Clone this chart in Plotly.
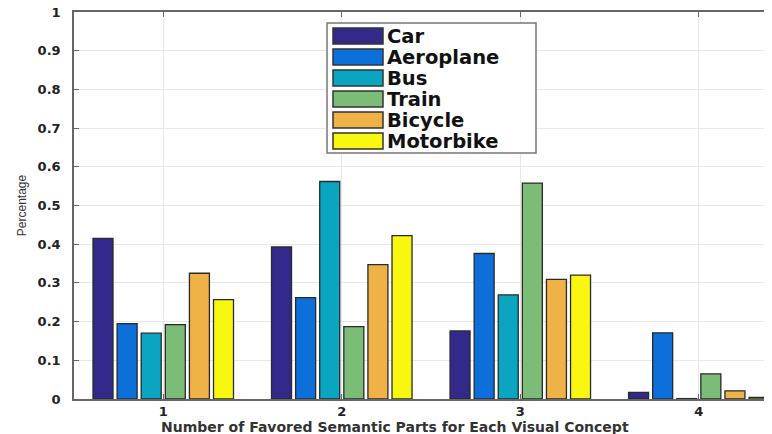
import plotly.graph_objects as go

groups = [1, 2, 3, 4]
series_names = ["Car", "Aeroplane", "Bus", "Train", "Bicycle", "Motorbike"]
car = [0.415, 0.393, 0.176, 0.017]
aeroplane = [0.195, 0.262, 0.376, 0.171]
bus = [0.170, 0.562, 0.269, 0.001]
train = [0.192, 0.187, 0.558, 0.065]
bicycle = [0.325, 0.347, 0.309, 0.021]
motorbike = [0.257, 0.422, 0.320, 0.004]
series_values = [car, aeroplane, bus, train, bicycle, motorbike]
colors = ["#33298a", "#0d6fd9", "#0aa6c1", "#7bbd76", "#efb246", "#f7f70f"]
y_ticks = [0, 0.1, 0.2, 0.3, 0.4, 0.5, 0.6, 0.7, 0.8, 0.9, 1]
y_tick_labels = ["0", "0.1", "0.2", "0.3", "0.4", "0.5", "0.6", "0.7", "0.8", "0.9", "1"]
x_title = "Number of Favored Semantic Parts for Each Visual Concept"

fig = go.Figure()
for name, vals, col in zip(series_names, series_values, colors):
    fig.add_trace(go.Bar(
        x=groups, y=vals, name=name, showlegend=False,
        marker=dict(color=col, line=dict(color="#2a2a2a", width=1.3)),
    ))

# plot area in window pixels (used to place the custom legend)
PLOT_TOP, PLOT_H = 12.0, 387.0
PLOT_LEFT, PLOT_W = 74.0, 698.0

def py(px):
    return (PLOT_TOP + PLOT_H - px) / PLOT_H

def pxx(px):
    return (px - PLOT_LEFT) / PLOT_W

shapes = [dict(type="rect", xref="paper", yref="paper",
               x0=pxx(327), x1=pxx(536), y0=py(153), y1=py(23),
               line=dict(color="#777", width=1.5), fillcolor="white", layer="above")]
annotations = []
for i, (name, col) in enumerate(zip(series_names, colors)):
    cy = 36 + 21 * i
    shapes.append(dict(type="rect", xref="paper", yref="paper",
                       x0=pxx(333), x1=pxx(383), y0=py(cy + 8), y1=py(cy - 8),
                       line=dict(color="#333", width=1.5), fillcolor=col, layer="above"))
    annotations.append(dict(xref="paper", yref="paper", x=pxx(386), y=py(cy + 0.5),
                            xanchor="left", yanchor="middle", text=name, showarrow=False,
                            borderpad=0,
                            font=dict(family="DejaVu Sans", size=19.5, color="#111", weight="bold")))

annotations.append(dict(xref="paper", yref="paper", x=pxx(395), y=py(427),
                        xanchor="center", yanchor="middle", text=x_title, showarrow=False,
                        borderpad=0,
                        font=dict(family="DejaVu Sans", size=14, color="#333", weight="bold")))

tick_font = dict(family="DejaVu Sans", size=13, color="#222", weight="bold")
fig.update_layout(
    width=764, height=426,
    margin=dict(l=66, r=0, t=4, b=35, autoexpand=False),
    paper_bgcolor="white", plot_bgcolor="white",
    barmode="group", bargap=0.19, bargroupgap=0.17,
    font=dict(family="Liberation Sans", color="#222"),
    showlegend=False,
    shapes=shapes, annotations=annotations,
    xaxis=dict(
        range=[0.5, 4.41], tickvals=groups, ticktext=[str(g) for g in groups],
        tickfont=tick_font, automargin=False,
        showline=True, linecolor="#666", linewidth=1.5, mirror="ticks",
        ticks="inside", ticklen=5, tickcolor="#666",
        showgrid=True, gridcolor="#e8e8e8", gridwidth=1, zeroline=False,
    ),
    yaxis=dict(
        range=[0, 1], tickvals=y_ticks, ticktext=y_tick_labels,
        tickfont=tick_font, automargin=False, ticklabelstandoff=9,
        ticklabeloverflow="allow",
        showline=True, linecolor="#666", linewidth=1.5, mirror=False,
        ticks="inside", ticklen=5, tickcolor="#666",
        showgrid=True, gridcolor="#e8e8e8", gridwidth=1, zeroline=False,
        title=dict(text="Percentage", font=dict(family="Liberation Sans", size=12, color="#333"),
                   standoff=8),
    ),
)

fig.write_html("out.html")
